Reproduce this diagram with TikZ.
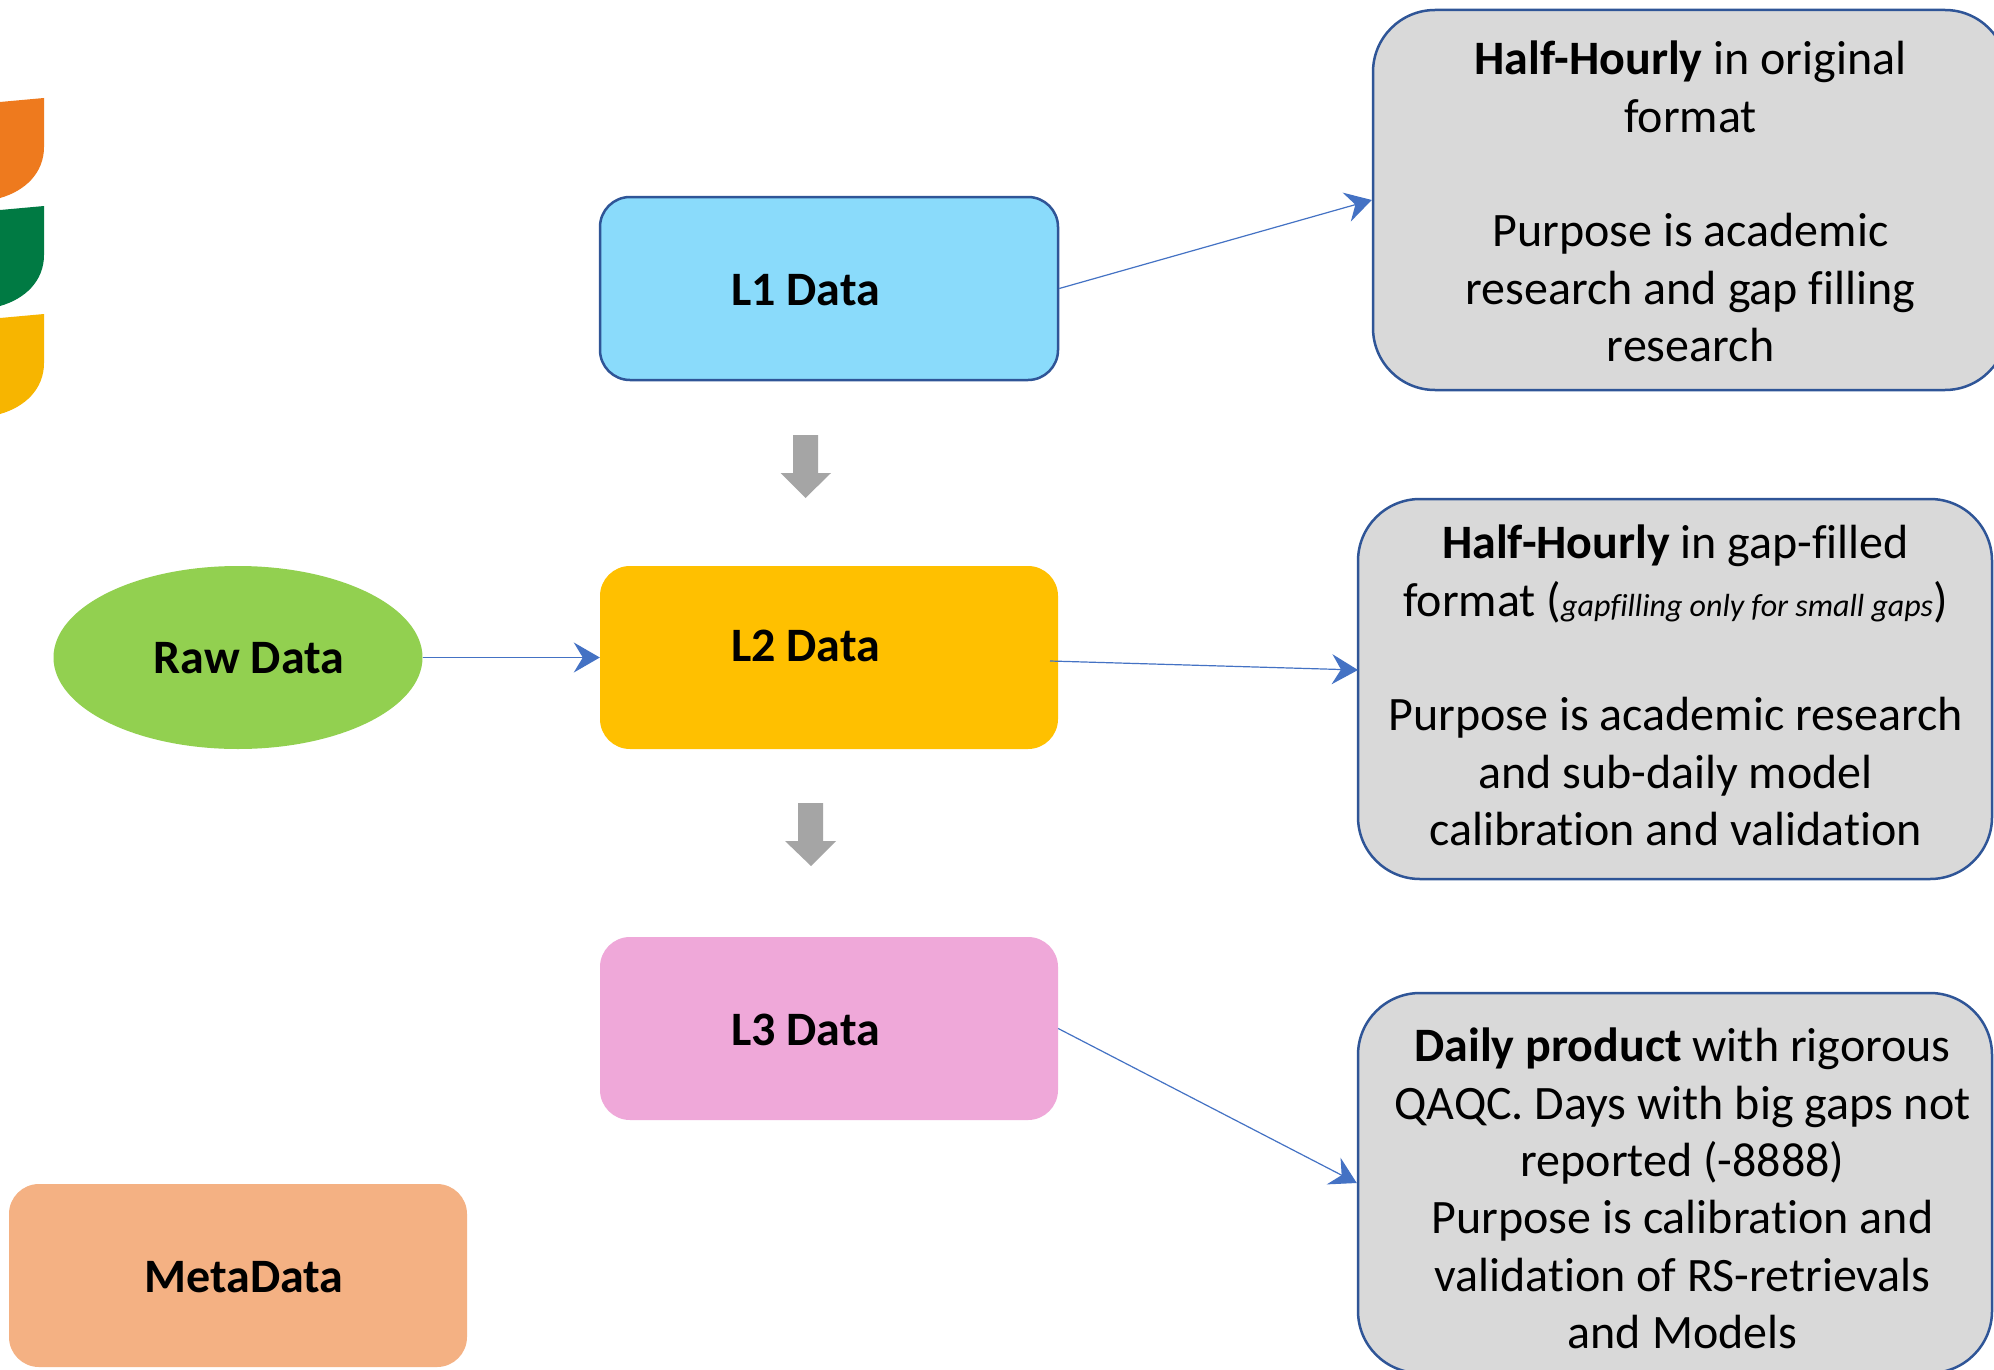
\documentclass[tikz,border=0pt]{standalone}
\usepackage{fontspec}
\setmainfont[Ligatures=CommonOff]{Carlito}
\usetikzlibrary{arrows.meta,shapes.geometric}
\definecolor{linkblue}{HTML}{4472C4}
\definecolor{edgeblue}{HTML}{2F5597}
\definecolor{skyfill}{HTML}{8ADBFB}
\definecolor{amberfill}{HTML}{FFC000}
\definecolor{pinkfill}{HTML}{EFA8D9}
\definecolor{limefill}{HTML}{92D050}
\definecolor{peachfill}{HTML}{F4B183}
\definecolor{greyfill}{HTML}{D9D9D9}
\definecolor{blockgrey}{HTML}{A5A5A5}
\definecolor{logoorange}{HTML}{EE7A1E}
\definecolor{logogreen}{HTML}{007A43}
\definecolor{logoyellow}{HTML}{F7B500}
% #1 twice the horizontal shift, #2 raise, #3 text
\newcommand{\offtext}[3]{\raisebox{#2}[0pt][0pt]{\makebox[0pt]{\hspace*{#1}#3}}}
\newcommand{\boxtext}[3]{\raisebox{#2}[0pt][0pt]{\makebox[0pt]{\hspace*{#1}\begin{tabular}{@{}c@{}}#3\end{tabular}}}}
\tikzset{
  x=1pt,y=-1pt,
  level/.style={rectangle,rounded corners=30pt,minimum width=458pt,minimum height=183pt,inner sep=0pt,
     font=\fontsize{48}{58}\selectfont\bfseries},
  info/.style={rectangle,rounded corners=62pt,draw=edgeblue,line width=2.5pt,fill=greyfill,
     minimum width=634pt,minimum height=380pt,inner sep=0pt,font=\fontsize{48}{57.4}\selectfont},
  link/.style={draw=linkblue,line width=1.2pt,-{Stealth[length=26pt,width=30pt,inset=9pt]}},
}
\newcommand{\logoleaf}[2]{\fill[#1] (0,#2+4) -- (44,#2) -- (44,#2+49) .. controls (44,#2+75) and (25,#2+93) .. (0,#2+100) -- cycle;}
\begin{document}
\begin{tikzpicture}
\useasboundingbox (0,0) rectangle (1994,1370);
\fill[white] (0,0) rectangle (1994,1370);
% logo
\logoleaf{logoorange}{98}
\logoleaf{logogreen}{206}
\logoleaf{logoyellow}{314}
% level boxes
\node[level,draw=edgeblue,line width=2.5pt,fill=skyfill] (l1) at (829,288.5) {\offtext{-47pt}{-17pt}{L1 Data}};
\node[level,fill=amberfill] (l2) at (829,657.5) {\offtext{-47pt}{-4pt}{L2 Data}};
\node[level,fill=pinkfill] (l3) at (829,1028.5) {\offtext{-47pt}{-17pt}{L3 Data}};
\node[ellipse,fill=limefill,minimum width=369pt,minimum height=183pt,inner sep=0pt,font=\fontsize{48}{58}\selectfont\bfseries] (raw) at (238,657.5) {\offtext{22pt}{-16pt}{Raw Data}};
\node[level,fill=peachfill] (meta) at (238,1275.5) {\offtext{12pt}{-17pt}{MetaData}};
% info boxes
\node[info] (ia) at (1690,200) {\boxtext{1pt}{-13pt}{\textbf{Half-Hourly} in original\\format\\\mbox{}\\Purpose is academic\\research and gap filling\\research}};
\node[info] (ib) at (1675,689) {\boxtext{1pt}{-8pt}{\textbf{Half-Hourly} in gap-filled\\format ({\fontsize{32}{30}\selectfont\itshape gapfilling only for small gaps})\\\mbox{}\\Purpose is academic research\\and sub-daily model\\calibration and validation}};
\node[info] (ic) at (1675,1183) {\boxtext{15pt}{-17pt}{\textbf{Daily product} with rigorous\\QAQC. Days with big gaps not\\reported (-8888)\\Purpose is calibration and\\validation of RS-retrievals\\and Models}};
% connector end points that are not on a compass anchor
\coordinate (l2out) at (1050,661);
\coordinate (ibin) at (1358,670);
% connectors
\draw[link] (l1.east) -- (ia.west);
\draw[link] (raw.east) -- (l2.west);
\draw[link] (l2out) -- (ibin);
\draw[link] (l3.east) -- (ic.west);
% block arrows
\fill[blockgrey] (793,435) -- (818,435) -- (818,473) -- (831,473) -- (805.5,498) -- (780.5,473) -- (793,473) -- cycle;
\fill[blockgrey] (798,803) -- (823,803) -- (823,841) -- (836,841) -- (811,866) -- (785,841) -- (798,841) -- cycle;
\end{tikzpicture}
\end{document}
